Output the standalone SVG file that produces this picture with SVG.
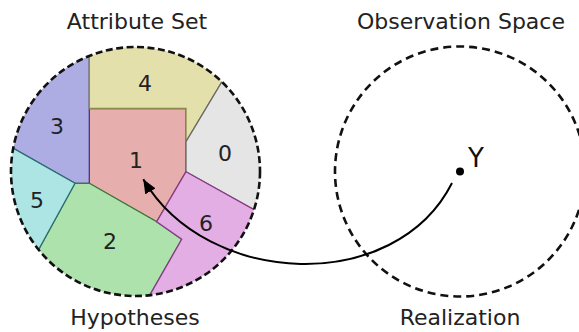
<svg xmlns="http://www.w3.org/2000/svg" width="579" height="332" viewBox="0 0 579 332">
  <style>
    .title { font-family: "DejaVu Sans", "Liberation Sans", sans-serif; font-size: 22px; fill: #222; text-anchor: middle; }
    .num { font-family: "DejaVu Sans", "Liberation Sans", sans-serif; font-size: 22px; fill: #222; text-anchor: middle; }
    .cell { stroke-width: 1.3; stroke-linejoin: miter; }
    .ring { fill: none; stroke: #111; stroke-width: 2.6; }
    .edge { fill: none; stroke: #000; stroke-width: 2; }
  </style>
  <defs>
    <clipPath id="setClip">
      <circle cx="135.5" cy="171.5" r="124.5"/>
    </clipPath>
    <marker id="head" viewBox="0 0 14 12" refX="14" refY="6" markerWidth="14" markerHeight="12" markerUnits="userSpaceOnUse" orient="auto">
      <path d="M0,0 L14,6 L0,12 Z" fill="#000"/>
    </marker>
  </defs>

  <rect width="579" height="332" fill="#fff"/>

  <!-- Titles -->
  <text class="title" x="137" y="29">Attribute Set</text>
  <text class="title" x="461" y="29">Observation Space</text>
  <text class="title" x="135" y="325">Hypotheses</text>
  <text class="title" x="460" y="325">Realization</text>

  <!-- Hypothesis cells, clipped to the attribute set -->
  <g clip-path="url(#setClip)">
    <g id="cell-1">
      <polygon class="cell" fill="#e6afad" stroke="#8c4a48" points="89.3,108.5 186,108.5 186,171.7 156.7,221.7 89.3,183.3"/>
    </g>
    <g id="cell-3">
      <polygon class="cell" fill="#adade3" stroke="#3c3c8c" points="89.3,20 89.3,183.3 75,183.3 -20,129.5 -20,20"/>
    </g>
    <g id="cell-4">
      <polygon class="cell" fill="#e3e0ab" stroke="#8a884a" points="89.3,20 89.3,108.5 186,108.5 186,141.7 238,55 238,20"/>
    </g>
    <g id="cell-0">
      <polygon class="cell" fill="#e5e5e5" stroke="#6a6a6a" points="186,141.7 238,55 300,55 300,235.4 186,171.7"/>
    </g>
    <g id="cell-2">
      <polygon class="cell" fill="#ade2ad" stroke="#3a7a3a" points="75,183.3 89.3,183.3 156.7,221.7 181.7,239.3 129.9,330 21.5,330 21.5,280.8"/>
    </g>
    <g id="cell-5">
      <polygon class="cell" fill="#ade5e5" stroke="#2a7070" points="-20,129.5 75,183.3 21.5,280.8 -20,281"/>
    </g>
    <g id="cell-6">
      <polygon class="cell" fill="#e3aee3" stroke="#8a3a8a" points="186,171.7 300,235.4 300,330 129.9,330 181.7,239.3 156.7,221.7"/>
    </g>
  </g>

  <!-- Cell labels -->
  <g id="labels">
    <text class="num" x="145" y="91">4</text>
    <text class="num" x="57" y="134">3</text>
    <text class="num" x="136" y="168">1</text>
    <text class="num" x="225" y="161">0</text>
    <text class="num" x="37" y="208">5</text>
    <text class="num" x="206" y="231">6</text>
    <text class="num" x="110" y="249">2</text>
  </g>

  <!-- Set boundaries -->
  <g id="attribute-set">
    <circle class="ring" cx="135.5" cy="171.5" r="124.5" stroke-dasharray="7 3.5"/>
  </g>
  <g id="observation-space">
    <circle class="ring" cx="460" cy="171.5" r="125" stroke-dasharray="8 5"/>
  </g>

  <!-- Realization point -->
  <g id="point-y">
    <circle cx="460" cy="171.5" r="4" fill="#000"/>
    <text x="468" y="167" font-family="DejaVu Sans, Liberation Sans, sans-serif" font-size="26" fill="#111">Y</text>
  </g>

  <!-- Connector -->
  <g id="connectors">
    <path class="edge" d="M452,183 C395.3,295.1 207.2,287.9 143.3,179.3" marker-end="url(#head)"/>
  </g>
</svg>
